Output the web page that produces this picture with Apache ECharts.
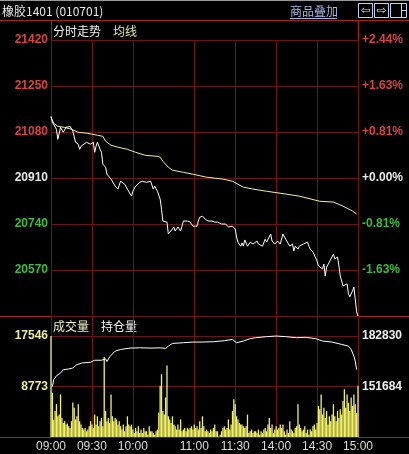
<!DOCTYPE html>
<html>
<head>
<meta charset="utf-8">
<script src="https://cdn.jsdelivr.net/npm/echarts@6/dist/echarts.min.js"></script>
<style>
html,body{margin:0;padding:0;background:#000;}
#c{width:409px;height:454px;}
</style>
</head>
<body>
<div id="c"></div>
<script>
// ---------- data ----------
const symbolTitle = '橡胶1401 (010701)';
const sessions = [['09:00', 75], ['10:30', 60], ['13:30', 90]]; // start, minutes
const timeTickLabels = ['09:00', '09:30', '10:00', '11:00', '11:30', '14:00', '14:30', '15:00'];

const prevClose = 20910;
const priceMin = 20400, priceMax = 21420, priceStep = 170;

const priceMinutes = [0,1,4,5,7,9,11,14,16,18,20,21,22,26,29,31,32,33,34,36,37,38,40,41,42,44,47,49,51,54,56,59,60,62,65,67,70,73,75,76,78,80,81,82,85,86,89,90,91,93,95,96,97,100,101,102,103,104,107,108,109,111,113,115,118,120,122,125,128,130,133,135,136,137,139,140,141,142,144,145,146,148,151,152,153,155,157,158,161,162,164,166,168,170,172,173,175,177,178,179,181,182,185,188,189,190,192,195,196,199,200,201,202,204,207,208,210,211,212,214,217,218,219,221,222,223,224,225];
const priceValues = [21138,21116,21090,21053,21097,21079,21097,21101,21083,21042,21035,21016,21027,21042,21035,21042,21005,21027,21042,21016,21005,20961,20950,20924,20917,20906,20880,20869,20898,20887,20869,20843,20861,20880,20894,20898,20894,20898,20869,20880,20861,20832,20795,20751,20747,20703,20721,20729,20714,20729,20714,20732,20751,20751,20758,20747,20751,20732,20732,20751,20765,20769,20758,20751,20751,20747,20747,20740,20740,20729,20732,20721,20692,20673,20658,20670,20658,20681,20658,20655,20673,20666,20677,20666,20673,20658,20684,20673,20703,20677,20666,20677,20666,20703,20684,20677,20658,20666,20640,20658,20647,20658,20666,20673,20658,20647,20636,20603,20585,20574,20592,20548,20581,20599,20629,20611,20618,20585,20548,20511,20519,20482,20471,20493,20507,20507,20415,20400];

const avgMinutes = [0,2,5,10,15,20,27,34,38,40,44,49,56,62,69,78,80,82,86,89,97,104,114,126,133,141,147,158,173,182,197,207,214,221,224];
const avgValues = [21135,21112,21101,21097,21090,21079,21075,21068,21064,21046,21031,21024,21016,21005,20994,20990,20987,20972,20950,20939,20931,20924,20913,20906,20898,20876,20870,20861,20850,20843,20824,20821,20806,20788,20777];

const volumeTop = 17546, volumeStep = 8773;
const volumes = [
 17546,7700,3000,4500,5700,3600,3900,7400,3300,2450,2750,2150,2350,1870,1580,2750,6000,5100,3050,3600,
 5700,2750,2150,1580,1290,1580,1000,1290,1870,2750,2150,1580,3900,2150,3600,1870,2750,3300,1870,13900,
 4500,2750,3300,2450,7400,3600,2750,3300,3050,2150,2750,1870,1290,2150,1000,1870,3600,2150,1870,2150,
 1290,700,1580,1000,1870,700,1290,700,1580,1000,1000,400,1870,1000,
 1000,700,400,1000,1290,4200,8900,10900,4500,3900,6850,12400,3600,3050,2450,3600,2150,1870,1290,2150,
 1290,3050,1000,1290,1580,1000,1580,1290,1580,1870,1290,2150,1580,1870,1290,2750,1580,3600,1870,1000,
 1290,1000,700,1290,1000,1580,2150,1000,1000,100,400,1000,1580,1870,1290,1580,3050,1290,2150,4500,
 6550,5700,3600,3050,2450,2150,2150,1870,1580,1870,3900,700,1000,1290,700,1000,
 1000,700,1290,400,1000,700,1290,1580,1000,2150,3300,1580,2150,700,1290,1870,1290,1580,2150,1580,
 2150,1000,400,1290,700,2750,1290,1000,700,1580,1870,5700,2150,1580,1000,1290,1870,700,1290,400,
 1290,1000,1870,2150,1290,2450,5400,4800,7400,3900,5100,3300,4500,2150,3600,2750,3900,5700,3600,2750,
 4500,3300,4800,3900,6250,8300,5100,7400,5950,4500,6850,5400,7400,5700,4200,8900
];

const oiTicks = [151684, 182830];
const oiMinutes = [1,2,4,7,9,13,16,19,23,29,32,37,40,41,43,47,51,58,65,74,80,84,86,89,97,104,111,119,127,133,136,141,146,150,158,165,172,180,187,194,199,206,213,218,220,222,223,224];
const oiValues = [151690,155840,158330,159990,162070,162480,163110,165180,166220,166640,167880,167880,168710,167050,169960,173490,174530,175360,175570,175360,175570,175150,176600,178260,178680,179090,179090,179300,179920,180750,178680,179720,181170,181790,182410,182830,182410,181790,182000,181170,179720,179090,177640,176600,174530,170370,167260,162070];

// ---------- build ----------
function pad(n){return (n<10?'0':'')+n;}
const timeLabels = [];
sessions.forEach(([start, len], si) => {
  let [h, m] = start.split(':').map(Number);
  let t = h*60 + m;
  for (let i = (si === 0 ? 0 : 1); i <= len; i++) {
    const tt = t + i;
    timeLabels.push(pad(Math.floor(tt/60)) + ':' + pad(tt%60));
  }
});
const tickSet = new Set(timeTickLabels.map(l => timeLabels.indexOf(l)));

const pairs = (xs, ys) => xs.map((x, i) => [x, ys[i]]);

const FRAME = '#a82424';
const GRID = '#6a1616';
const NUM_FONT = '"Liberation Sans", Arial, sans-serif';
const CJK_FONT = '"Noto Sans CJK SC", sans-serif';

const plain = v => String(Math.round(Number(v)));
const priceColor = v => { v = Number(v); return v > prevClose ? '#d84444' : (v < prevClose ? '#3cbc3c' : '#e8e8e8'); };
const pctText = v => { const p = (Number(v) - prevClose) / prevClose * 100; return (p >= 0 ? '+' : '') + p.toFixed(2) + '%'; };

// volume panel includes a 20px caption strip above the plotted range
const volPanelTop = 316, volPlotTop = 336, volBottom = 437;
const volRatio = (volBottom - volPanelTop) / (volBottom - volPlotTop);
const oiBase = oiTicks[0] - (oiTicks[1] - oiTicks[0]);

const chart = echarts.init(document.getElementById('c'), null, {renderer: 'canvas'});

const xCommon = {
  type: 'category', data: timeLabels, boundaryGap: false,
  axisLine: {show: false}, axisTick: {show: false},
  splitLine: {show: true, interval: (i) => tickSet.has(i), lineStyle: {color: GRID, width: 1}}
};

chart.setOption({
  backgroundColor: '#000',
  animation: false,
  grid: [
    {left: 51, right: 51, top: 40, height: 276},
    {left: 51, right: 51, top: volPanelTop, height: volBottom - volPanelTop}
  ],
  xAxis: [
    Object.assign({}, xCommon, {gridIndex: 0, axisLabel: {show: false}}),
    Object.assign({}, xCommon, {gridIndex: 1, axisLabel: {
      show: true, interval: (i) => tickSet.has(i), color: '#dcdcdc',
      fontFamily: NUM_FONT, fontSize: 12, margin: 4
    }})
  ],
  yAxis: [
    {type: 'value', gridIndex: 0, min: priceMin, max: priceMax, interval: priceStep, position: 'left',
     axisLine: {show: false}, axisTick: {show: false},
     splitLine: {show: true, lineStyle: {color: GRID}},
     axisLabel: {showMinLabel: false, formatter: plain, color: priceColor, fontFamily: NUM_FONT, fontWeight: 'bold', fontSize: 12, margin: 3}},
    {type: 'value', gridIndex: 0, min: priceMin, max: priceMax, interval: priceStep, position: 'right',
     axisLine: {show: false}, axisTick: {show: false}, splitLine: {show: false},
     axisLabel: {showMinLabel: false, formatter: pctText, color: priceColor, fontFamily: NUM_FONT, fontWeight: 'bold', fontSize: 12, margin: 4}},
    {type: 'value', gridIndex: 1, min: 0, max: volumeTop * volRatio, interval: volumeStep, position: 'left',
     axisLine: {show: false}, axisTick: {show: false},
     splitLine: {show: true, lineStyle: {color: GRID}},
     axisLabel: {showMinLabel: false, showMaxLabel: false, formatter: plain, color: '#ecec9c', fontFamily: NUM_FONT, fontWeight: 'bold', fontSize: 12, margin: 3}},
    {type: 'value', gridIndex: 1, min: oiBase, max: oiBase + (oiTicks[1] - oiBase) * volRatio, position: 'right',
     axisLine: {show: false}, axisTick: {show: false}, splitLine: {show: false},
     axisLabel: {customValues: oiTicks, formatter: plain, color: '#f0f0f0', fontFamily: NUM_FONT, fontWeight: 'bold', fontSize: 12, margin: 4}}
  ],
  series: [
    {type: 'line', xAxisIndex: 0, yAxisIndex: 0, data: pairs(avgMinutes, avgValues), showSymbol: false,
     lineStyle: {color: '#f4eea8', width: 1}, z: 3},
    {type: 'line', xAxisIndex: 0, yAxisIndex: 0, data: pairs(priceMinutes, priceValues), showSymbol: false,
     lineStyle: {color: '#ffffff', width: 1}, z: 4},
    {type: 'bar', xAxisIndex: 1, yAxisIndex: 2, data: volumes.map((v, i) => [i, v]), barWidth: 1.3,
     itemStyle: {color: '#f2f266'}, z: 3},
    {type: 'line', xAxisIndex: 1, yAxisIndex: 3, data: pairs(oiMinutes, oiValues), showSymbol: false,
     lineStyle: {color: '#ffffff', width: 1}, z: 4}
  ],
  graphic: [
    {type: 'line', shape: {x1: 0, y1: 0.5, x2: 409, y2: 0.5}, style: {stroke: '#9a9a9a', lineWidth: 1}},
    {type: 'line', shape: {x1: 0, y1: 20.5, x2: 409, y2: 20.5}, style: {stroke: FRAME, lineWidth: 1}},
    {type: 'line', shape: {x1: 0, y1: 316.5, x2: 409, y2: 316.5}, style: {stroke: FRAME, lineWidth: 1}},
    {type: 'line', shape: {x1: 0, y1: 437.5, x2: 409, y2: 437.5}, style: {stroke: FRAME, lineWidth: 1}},
    {type: 'line', shape: {x1: 51.5, y1: 20.5, x2: 51.5, y2: 437.5}, style: {stroke: FRAME, lineWidth: 1}},
    {type: 'line', shape: {x1: 358.5, y1: 20.5, x2: 358.5, y2: 437.5}, style: {stroke: FRAME, lineWidth: 1}},
    {type: 'text', style: {text: symbolTitle, x: 2, y: 11, textVerticalAlign: 'middle', fill: '#e6e6e6', font: '12px ' + CJK_FONT}},
    {type: 'text', style: {text: '商品叠加', x: 290, y: 11, textVerticalAlign: 'middle', fill: '#a4b8e4', font: '12px ' + CJK_FONT}},
    {type: 'line', shape: {x1: 290, y1: 18.5, x2: 337, y2: 18.5}, style: {stroke: '#a4b8e4', lineWidth: 1}},
    {type: 'rect', shape: {x: 358.5, y: 3.5, width: 14, height: 14}, style: {fill: 'none', stroke: '#c4d0f4', lineWidth: 1}},
    {type: 'text', style: {text: '⇦', x: 365.5, y: 11, textAlign: 'center', textVerticalAlign: 'middle', fill: '#d8e0f8', font: '12px "DejaVu Sans"'}},
    {type: 'rect', shape: {x: 374.5, y: 3.5, width: 14, height: 14}, style: {fill: 'none', stroke: '#c4d0f4', lineWidth: 1}},
    {type: 'text', style: {text: '⇨', x: 381.5, y: 11, textAlign: 'center', textVerticalAlign: 'middle', fill: '#d8e0f8', font: '12px "DejaVu Sans"'}},
    {type: 'rect', shape: {x: 390.5, y: 3.5, width: 16, height: 14}, style: {fill: 'none', stroke: '#c4d0f4', lineWidth: 1}},
    {type: 'line', shape: {x1: 401.5, y1: 3.5, x2: 401.5, y2: 17.5}, style: {stroke: '#c4d0f4', lineWidth: 1}},
    {type: 'line', shape: {x1: 401.5, y1: 10.5, x2: 406.5, y2: 10.5}, style: {stroke: '#c4d0f4', lineWidth: 1}},
    {type: 'text', style: {text: '分时走势', x: 53, y: 31, textVerticalAlign: 'middle', fill: '#f0f0f0', font: '12px ' + CJK_FONT}},
    {type: 'text', style: {text: '均线', x: 113, y: 31, textVerticalAlign: 'middle', fill: '#e8e8a0', font: '12px ' + CJK_FONT}},
    {type: 'text', style: {text: '成交量', x: 53, y: 326, textVerticalAlign: 'middle', fill: '#f0f0c4', font: '12px ' + CJK_FONT}},
    {type: 'text', style: {text: '持仓量', x: 101, y: 326, textVerticalAlign: 'middle', fill: '#f4f4f4', font: '12px ' + CJK_FONT}}
  ]
});
</script>
</body>
</html>
